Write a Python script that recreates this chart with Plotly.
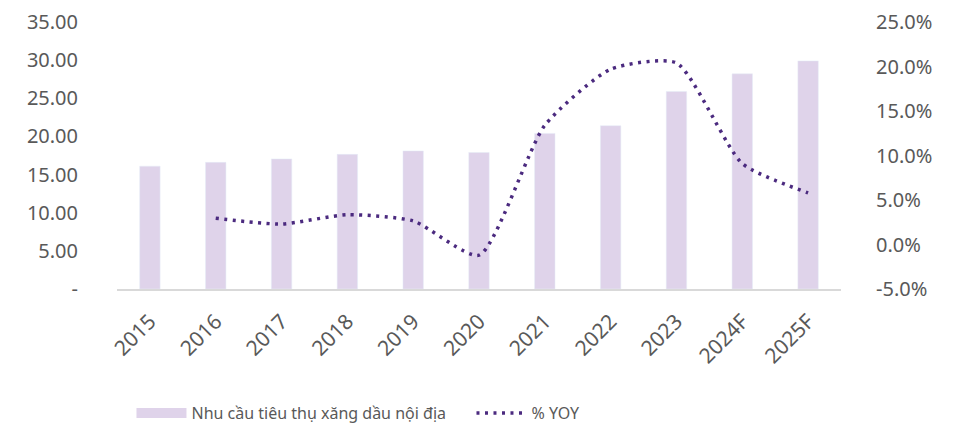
import plotly.graph_objects as go

years = ["2015", "2016", "2017", "2018", "2019", "2020", "2021", "2022", "2023", "2024F", "2025F"]
demand = [16.1, 16.6, 17.05, 17.65, 18.1, 17.9, 20.4, 21.4, 25.9, 28.2, 29.9]
yoy = [None, 2.95, 2.3, 3.35, 2.65, -1.2, 13.4, 19.7, 20.4, 9.1, 5.8]

left_ticks = [0, 5, 10, 15, 20, 25, 30, 35]
left_text = ["-"] + ["%.2f" % v for v in left_ticks[1:]]
right_ticks = [-5, 0, 5, 10, 15, 20, 25]
right_text = ["%.1f%%" % v for v in right_ticks]

bar_color = '#DFD3EA'
line_color = '#4B2A7F'

fig = go.Figure()
fig.add_trace(go.Bar(x=years, y=demand, name='Nhu cầu tiêu thụ xăng dầu nội địa',
                     marker_color=bar_color, yaxis='y', showlegend=False))
# legend-only proxy so the bar swatch is a wide rectangle like the original
fig.add_trace(go.Scatter(x=[None], y=[None], mode='lines', name='Nhu cầu tiêu thụ xăng dầu nội địa',
                         line=dict(color=bar_color, width=14)))
fig.add_trace(go.Scatter(x=years, y=yoy, name='% YOY', mode='lines', yaxis='y2',
                         line=dict(color=line_color, width=3.5, dash='3px,5.5px', shape='spline', smoothing=0.6)))

fig.update_layout(
    width=967, height=431,
    margin=dict(l=109, r=134, t=14, b=150),
    plot_bgcolor='white', paper_bgcolor='white',
    font=dict(family='Noto Sans', size=20, color='#595959'),
    bargap=0.69,
    xaxis=dict(tickangle=-45, showline=True, linecolor='#D9D9D9', linewidth=2,
               showgrid=False, ticks='outside', ticklen=10, tickcolor='rgba(0,0,0,0)',
               ticklabelshift=0, automargin=False, tickfont=dict(size=21)),
    yaxis=dict(range=[0, 35], tickvals=left_ticks, ticktext=left_text, automargin=False,
               showgrid=False, zeroline=False, ticks='outside', ticklen=34,
               tickcolor='rgba(0,0,0,0)', ticklabeloverflow='allow'),
    yaxis2=dict(range=[-5, 25], tickvals=right_ticks, ticktext=right_text, overlaying='y',
                side='right', showgrid=False, zeroline=False, ticks='outside', ticklen=30,
                tickcolor='rgba(0,0,0,0)', automargin=False, ticklabeloverflow='allow'),
    legend=dict(orientation='h', x=0.02, xanchor='left', yref='container', y=0.06, yanchor='middle',
                font=dict(size=16, color='#595959'), itemwidth=50, tracegroupgap=0,
                entrywidth=275, entrywidthmode='pixels'),
)

fig.write_html("out.html")
